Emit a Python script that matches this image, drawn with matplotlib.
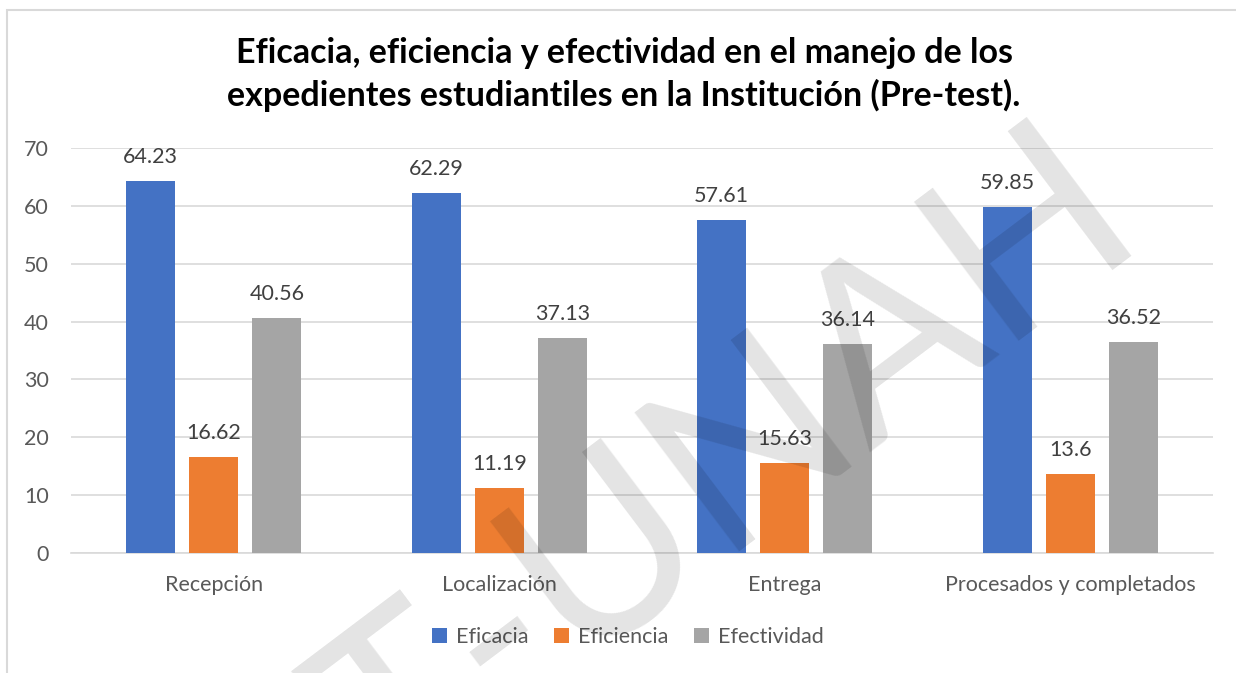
import numpy as np
import matplotlib.pyplot as plt
from matplotlib.patches import Rectangle

# data
categories = ['Recepción', 'Localización', 'Entrega', 'Procesados y completados']
series_names = ['Eficacia', 'Eficiencia', 'Efectividad']
eficacia = [64.23, 62.29, 57.61, 59.85]
eficiencia = [16.62, 11.19, 15.63, 13.6]
efectividad = [40.56, 37.13, 36.14, 36.52]
y_ticks = [0, 10, 20, 30, 40, 50, 60, 70]

colors = ['#4472C4', '#ED7D31', '#A5A5A5']
text_gray = '#595959'
grid_gray = '#D9D9D9'

plt.rcParams['font.family'] = ['Lato', 'DejaVu Sans']

W, H = 1236, 673
fig = plt.figure(figsize=(W / 100, H / 100), dpi=100)
ax = fig.add_axes([71 / W, 1 - 553 / H, (1213 - 71) / W, (553 - 148) / H])

x = np.arange(len(categories))
width = 0.172
step = 0.221
values = [eficacia, eficiencia, efectividad]
fs = 15.5

for i, (name, vals) in enumerate(zip(series_names, values)):
    pos = x + (i - 1) * step
    bars = ax.bar(pos, vals, width, color=colors[i], label=name, zorder=3)
    for b, v in zip(bars, vals):
        ax.annotate(f'{v:g}', (b.get_x() + b.get_width() / 2, v),
                    xytext=(0, 13), textcoords='offset points',
                    ha='center', va='baseline', fontsize=fs, color='#404040')

ax.set_xlim(-0.5, len(categories) - 0.5)
ax.set_ylim(0, 70)
ax.set_yticks(y_ticks)
ax.set_xticks(x)
ax.set_xticklabels(categories)
ax.yaxis.grid(True, color=grid_gray, linewidth=1.2, zorder=0)
ax.set_axisbelow(True)
for s in ['top', 'right', 'left']:
    ax.spines[s].set_visible(False)
ax.spines['bottom'].set_color(grid_gray)
ax.spines['bottom'].set_linewidth(1.2)
ax.tick_params(axis='both', length=0, labelsize=fs, labelcolor=text_gray)
ax.tick_params(axis='y', pad=16)
ax.tick_params(axis='x', pad=16)

fig.text(0.505, 1 - 74.5 / H,
         'Eficacia, eficiencia y efectividad en el manejo de los\n'
         'expedientes estudiantiles en la Institución (Pre-test).',
         ha='center', va='center', fontsize=24.5, fontweight='bold',
         color='black', linespacing=1.35)

fig.legend(loc='center', bbox_to_anchor=(628 / W, 1 - 637 / H), ncol=3,
           frameon=False, fontsize=fs, handlelength=0.7, handleheight=0.7,
           handletextpad=0.4, columnspacing=1.2, labelcolor=text_gray)

# chart border
fig.patches.append(Rectangle((7 / W, -0.1), 1.2, 1.1 - 10 / H,
                             transform=fig.transFigure, fill=False,
                             edgecolor=grid_gray, linewidth=1.5))

# watermark
fig.text(730 / W, 1 - 470 / H, 'T-UNAH', rotation=37, fontsize=175,
         ha='center', va='center', color='black', alpha=0.11, zorder=10)

fig.savefig('out.png', dpi=100)
